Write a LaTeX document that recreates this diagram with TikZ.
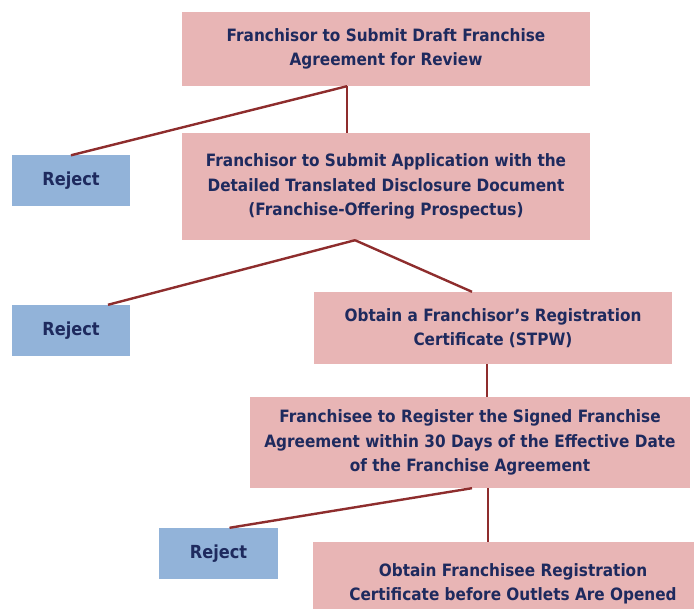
\documentclass[tikz,border=0pt]{standalone}
\usepackage{fontspec}
\setmainfont{DejaVu Sans}[FakeStretch=0.9]
\definecolor{pinkfill}{HTML}{E8B5B5}
\definecolor{bluefill}{HTML}{92B3D9}
\definecolor{navytext}{HTML}{1E2A5E}
\definecolor{linered}{HTML}{8E2D2D}
\tikzset{
  stepbox/.style={rectangle, fill=pinkfill, draw=none, text=navytext, font=\bfseries\fontsize{17}{24.5}\selectfont, align=center, inner sep=0pt},
  rejbox/.style={rectangle, fill=bluefill, draw=none, text=navytext, font=\bfseries\fontsize{18}{24.5}\selectfont, align=center, inner sep=0pt, minimum width=118pt, minimum height=51pt},
  conn/.style={draw=linered, line width=2.4pt}
}
\begin{document}
\begin{tikzpicture}[x=1pt,y=-1pt]
\useasboundingbox (0,0) rectangle (694,609);
\begin{scope}
\clip (0,0) rectangle (694,609);
\node[stepbox, minimum width=408pt, minimum height=74pt] (b1) at (386,49) {Franchisor to Submit Draft Franchise\\Agreement for Review};
\node[rejbox] (r1) at (71,181) {Reject};
\node[stepbox, minimum width=408pt, minimum height=107pt] (b2) at (386,186.5) {Franchisor to Submit Application with the\\Detailed Translated Disclosure Document\\(Franchise-Offering Prospectus)};
\node[rejbox] (r2) at (71,330.5) {Reject};
\node[stepbox, minimum width=358pt, minimum height=72pt] (b3) at (493,328) {Obtain a Franchisor’s Registration\\Certificate (STPW)};
\node[stepbox, minimum width=440pt, minimum height=91pt] (b4) at (470,442.5) {Franchisee to Register the Signed Franchise\\Agreement within 30 Days of the Effective Date\\of the Franchise Agreement};
\node[rejbox, minimum width=119pt] (r3) at (218.5,553.5) {Reject};
\node[stepbox, minimum width=400pt, minimum height=80pt, text depth=0pt] (b5) at (513,582) {Obtain Franchisee Registration\\Certificate before Outlets Are Opened};
\end{scope}
\coordinate (b1s) at ([xshift=-39pt]b1.south);
\coordinate (b2s) at ([xshift=-31pt]b2.south);
\coordinate (r2n) at ([xshift=37pt]r2.north);
\coordinate (b3n) at ([xshift=-21pt]b3.north);
\coordinate (b3s) at ([xshift=-6pt]b3.south);
\coordinate (b4s) at ([xshift=2pt]b4.south);
\coordinate (b4v) at ([xshift=18pt]b4.south);
\coordinate (r3n) at ([xshift=11pt]r3.north);
\draw[conn] (b1s) -- (r1.north);
\draw[conn] (b1s) -- (b1s |- b2.north);
\draw[conn] (b2s) -- (r2n);
\draw[conn] (b2s) -- (b3n);
\draw[conn] (b3s) -- (b3s |- b4.north);
\draw[conn] (b4s) -- (r3n);
\draw[conn] (b4v) -- (b4v |- b5.north);
\end{tikzpicture}
\end{document}
